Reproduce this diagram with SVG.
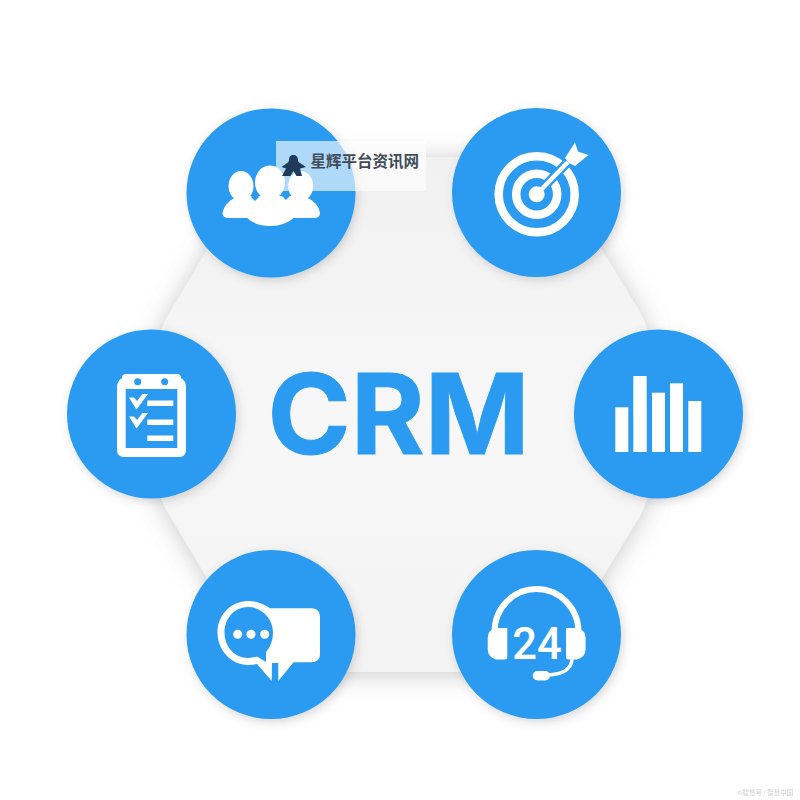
<svg xmlns="http://www.w3.org/2000/svg" width="800" height="800" viewBox="0 0 800 800">
<style>
.disc{fill:#2a9bf0;filter:url(#ds)}
.w{fill:#fff}
.ws{fill:none;stroke:#fff;stroke-linecap:round;stroke-linejoin:round}
.b{fill:#2a9bf0}
</style>
<defs>
<filter id="ds" x="-20%" y="-20%" width="140%" height="140%"><feDropShadow dx="2" dy="3" stdDeviation="5" flood-color="#555" flood-opacity=".24"/></filter>
<filter id="hs" x="-15%" y="-15%" width="130%" height="130%"><feDropShadow dx="0" dy="2" stdDeviation="12" flood-color="#777" flood-opacity=".4"/></filter>
<filter id="soft"><feGaussianBlur stdDeviation=".5"/></filter>
<linearGradient id="hg" x1="0" y1="0" x2="0" y2="1"><stop offset="0" stop-color="#f1f1f2"/><stop offset=".5" stop-color="#f7f7f8"/><stop offset="1" stop-color="#f3f3f4"/></linearGradient>
</defs>
<rect width="800" height="800" fill="#fff"/>
<path id="hexagon" d="M275 157H533Q545 157 552 168L640 312Q650 330 650 350V480Q650 498 640 516L552 660Q545 672 533 672H275Q263 672 256 660L170 516Q158 498 158 480V350Q158 330 170 312L256 168Q263 157 275 157Z" fill="url(#hg)" filter="url(#hs)"/>
<text id="title" x="398.500" y="454" font-family="Inter,'Liberation Sans',Arial,sans-serif" font-size="111" font-weight="700" fill="#2a9bf0" text-anchor="middle" stroke="#2a9bf0" stroke-width="1" textLength="262" lengthAdjust="spacingAndGlyphs">CRM</text>

<g id="node-people">
<circle class="disc" cx="271" cy="193" r="84.500"/>
<ellipse class="w" cx="241" cy="186" rx="12.500" ry="15"/>
<ellipse class="w" cx="300.700" cy="186" rx="12.500" ry="15"/>
<path class="w" d="M222.500 213Q224 203 236 197L250 196L292 196L306 197Q319 203 320 213Q320 218 314 218H229Q222.500 218 222.500 213Z"/>
<ellipse class="w" cx="270" cy="182.500" rx="15" ry="17"/>
<path class="w" d="M246 217Q248 205 259 200L270 196L281 200Q292 205 295 217Q285 226 270 226Q255 226 246 217Z"/>
<path class="b" d="M255 192L259 197L255 201L251 197ZM286 191L290 196L286 200L282 196Z"/>
</g>

<g id="node-target">
<circle class="disc" cx="536.500" cy="192.500" r="84.500"/>
<circle cx="536.700" cy="194.300" r="38" fill="none" stroke="#fff" stroke-width="8.500"/>
<circle cx="536.700" cy="194.300" r="20.500" fill="none" stroke="#fff" stroke-width="8.500"/>
<path d="M537 194L566 164" stroke="#2a9bf0" stroke-width="9" fill="none"/>
<circle class="w" cx="536.700" cy="194.300" r="8"/>
<path d="M537 194L568 162" stroke="#fff" stroke-width="4.500" fill="none"/>
<path class="w" d="M565 158L575 142.500L578 151.500L588.500 155L575 166L569 163Z"/>
</g>

<g id="node-clipboard">
<circle class="disc" cx="151.500" cy="414" r="84.500"/>
<path class="w" d="M126 374H177Q181 374 181 378Q186 381 186 387V450Q186 457 179 457H124Q117 457 117 450V387Q117 381 122 378Q122 374 126 374Z"/>
<rect class="b" x="125.700" y="389" width="51.600" height="59"/>
<circle class="b" cx="137.700" cy="381.700" r="3.500"/>
<circle class="b" cx="164.700" cy="381.700" r="3.500"/>
<rect class="w" x="147.300" y="400.500" width="26" height="5.500"/>
<rect class="w" x="147.300" y="419.500" width="26" height="5.500"/>
<rect class="w" x="147.300" y="435.500" width="26" height="5.500"/>
<path class="w" d="M129 397.500H134L137 401L142.500 394H148L136.500 409.500Z"/>
<path class="w" d="M129 416.500H134L137 420L142.500 413H148L136.500 428.500Z"/>
</g>

<g id="node-chart">
<circle class="disc" cx="658.500" cy="414" r="84.500"/>
<rect class="w" x="615.300" y="407.300" width="13" height="44.700"/>
<rect class="w" x="633.300" y="376" width="13.400" height="76"/>
<rect class="w" x="652" y="392.700" width="13" height="59.300"/>
<rect class="w" x="670" y="383.300" width="13" height="68.700"/>
<rect class="w" x="688.300" y="401" width="13" height="51"/>
</g>

<g id="node-chat">
<circle class="disc" cx="271" cy="634.500" r="84.500"/>
<path class="w" d="M270 608.300H311Q320 608.300 320 617V654Q320 662.300 311 662.300H293.500L278.300 681V663H272L271.700 681L257 664Q253 665 248.300 665C231 665 217.500 650 217.500 632.500C217.500 615 231 601 248.300 601Q260 601 270 608.300Z"/>
<path class="b" d="M272 663H277V680H272Z"/>
<path class="b" d="M248.300 607C234 607 224.500 619 224.500 632.500C224.500 646 234 658 248.300 658Q253 658 257 656.500L266 662V652Q273 644 273 632.500C273 619 262 607 248.300 607Z"/>
<circle class="w" cx="237.700" cy="634.300" r="4.500"/>
<circle class="w" cx="251" cy="634.300" r="4.500"/>
<circle class="w" cx="264.700" cy="634.300" r="4.500"/>
</g>

<g id="node-support">
<circle class="disc" cx="536.500" cy="634.500" r="84.500"/>
<path class="ws" stroke-width="6" d="M494.500 632A42 43 0 0 1 578.500 632"/>
<path class="w" d="M496 628H507.300V657Q507.300 659.500 504 659.500H496Q487.700 657 487.700 649V638Q487.700 630 496 628Z"/>
<path class="w" d="M577 628H566V657Q566 659.500 569 659.500H577Q585.600 657 585.600 649V638Q585.600 630 577 628Z"/>
<path class="ws" stroke-width="3.500" d="M572 660Q570 674 548 675"/>
<rect class="w" x="532.700" y="671" width="17.300" height="9.500" rx="4.700"/>
<text x="537" y="659" font-family="Roboto,'Liberation Sans',Arial,sans-serif" font-size="43.500" font-weight="500" fill="#fff" text-anchor="middle">24</text>
</g>

<g id="watermark">
<rect x="276" y="141" width="150" height="50" fill="#fff" fill-opacity=".62"/>
<path d="M293.300 155Q298 155 298 160.500L298.500 162L306 167L300 168.500L302 176H296.500L293.500 171L290.500 176H282L286 168.500L281.500 167L288.500 162L289 160Q289 155 293.300 155Z" fill="#1f3a5a"/>
<text x="310.500" y="166.500" font-family="'Noto Sans CJK SC','Liberation Sans',sans-serif" font-size="15.500" font-weight="700" fill="#3f4c58">星辉平台资讯网</text>
</g>
<text id="credit" x="737" y="795" font-family="'Noto Sans CJK SC','Liberation Sans',sans-serif" font-size="6.500" fill="#cfcfcf" filter="url(#soft)">©智慧号 / 智慧中国</text>
</svg>
